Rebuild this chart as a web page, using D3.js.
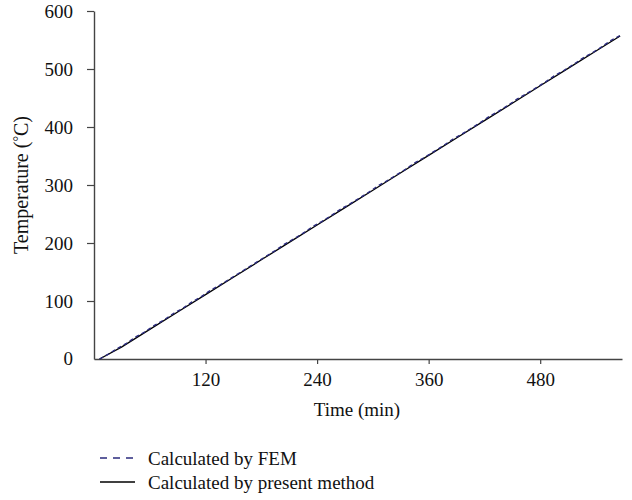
<!DOCTYPE html>
<html>
<head>
<meta charset="utf-8">
<script src="https://cdn.jsdelivr.net/npm/d3@7"></script>
<style>
  html, body { margin: 0; padding: 0; background: #fff; }
  svg text { font-family: "Liberation Serif", "DejaVu Serif", serif; fill: #111; }
</style>
</head>
<body>
<svg id="chart" width="632" height="500"></svg>
<script>
// Heating curve, temperature vs time
const xTicks = [120, 240, 360, 480];
const yTicks = [100, 200, 300, 400, 500, 600];

// Calculated by present method
const presentTime = [6, 30, 60, 90, 120, 150, 180, 210, 240, 270, 300, 330, 360, 390, 420, 450, 480, 510, 540, 566];
const presentTemp = [0, 21, 51, 81, 111, 141, 171, 201, 231, 261, 291, 321, 351, 381, 411, 441, 471, 501, 531, 557];

// Calculated by FEM
const femTime = [6, 15, 25, 35, 45, 55, 65, 75, 85, 95, 105, 115, 125, 135, 145, 155, 165, 175, 185, 195,
  205, 215, 225, 235, 245, 255, 265, 275, 285, 295, 305, 315, 325, 335, 345, 355, 365, 375, 385, 395,
  405, 415, 425, 435, 445, 455, 465, 475, 485, 495, 505, 515, 525, 535, 545, 555, 566];
const femTemp = [0, 8, 18, 27, 38, 47, 58, 67, 78, 87, 98, 107, 118, 127, 137, 147, 157, 167, 177, 187,
  198, 207, 217, 228, 237, 247, 258, 267, 277, 287, 298, 307, 317, 327, 338, 347, 357, 367, 378, 387,
  397, 407, 418, 427, 437, 448, 457, 467, 477, 488, 497, 507, 518, 527, 537, 548, 558];

const svg = d3.select("#chart");
const x = d3.scaleLinear().domain([0, 568]).range([94, 622]);
const y = d3.scaleLinear().domain([0, 600]).range([359, 11]);
const fs = "19px";

// axes
const axisColor = "#444";
const xAxis = svg.append("g").attr("transform", `translate(0,${y(0)})`)
  .call(d3.axisBottom(x).tickValues(xTicks).tickSize(5).tickSizeOuter(0).tickPadding(9));
const yAxis = svg.append("g").attr("transform", `translate(${x(0)},0)`)
  .call(d3.axisLeft(y).tickValues(yTicks).tickSize(7).tickSizeOuter(0).tickPadding(14));
svg.append("text").attr("x", x(0) - 21).attr("y", y(0)).attr("dy", "0.32em")
  .attr("text-anchor", "end").style("font-size", fs).text("0");

[xAxis, yAxis].forEach(g => {
  g.select(".domain").attr("stroke", axisColor).attr("stroke-width", 1.4);
  g.selectAll(".tick line").attr("stroke", axisColor).attr("stroke-width", 1.2);
  g.selectAll(".tick text").style("font-size", fs).attr("font-family", "Liberation Serif").attr("fill", "#111");
});

// series
const present = presentTime.map((t, i) => [t, presentTemp[i]]);
const fem = femTime.map((t, i) => [t, femTemp[i]]);
const line = d3.line().x(d => x(d[0])).y(d => y(d[1]));

svg.append("path").datum(present).attr("d", line)
  .attr("fill", "none").attr("stroke", "#000").attr("stroke-width", 1.3);
svg.append("path").datum(fem).attr("d", line)
  .attr("fill", "none").attr("stroke", "#2b2b7e").attr("stroke-width", 1.4)
  .attr("stroke-dasharray", "4,3");

// axis titles
svg.append("text").attr("x", 357).attr("y", 416).attr("text-anchor", "middle")
  .style("font-size", fs).text("Time (min)");
const yt = svg.append("text").attr("transform", "translate(28,185) rotate(-90)")
  .attr("text-anchor", "middle").style("font-size", "20px");
yt.append("tspan").text("Temperature (");
yt.append("tspan").attr("dy", "-5").style("font-size", "14px").text("°");
yt.append("tspan").attr("dy", "5").text("C)");

// legend
const legend = [
  { label: "Calculated by FEM", color: "#2b2b7e", dash: "7,6" },
  { label: "Calculated by present method", color: "#000", dash: null }
];
legend.forEach((d, i) => {
  const ly = 458 + i * 24;
  svg.append("line").attr("x1", 100).attr("x2", 135).attr("y1", ly).attr("y2", ly)
    .attr("stroke", d.color).attr("stroke-width", 1.3)
    .attr("stroke-dasharray", d.dash);
  svg.append("text").attr("x", 148).attr("y", ly).attr("dy", "0.35em")
    .style("font-size", fs).text(d.label);
});
</script>
</body>
</html>
